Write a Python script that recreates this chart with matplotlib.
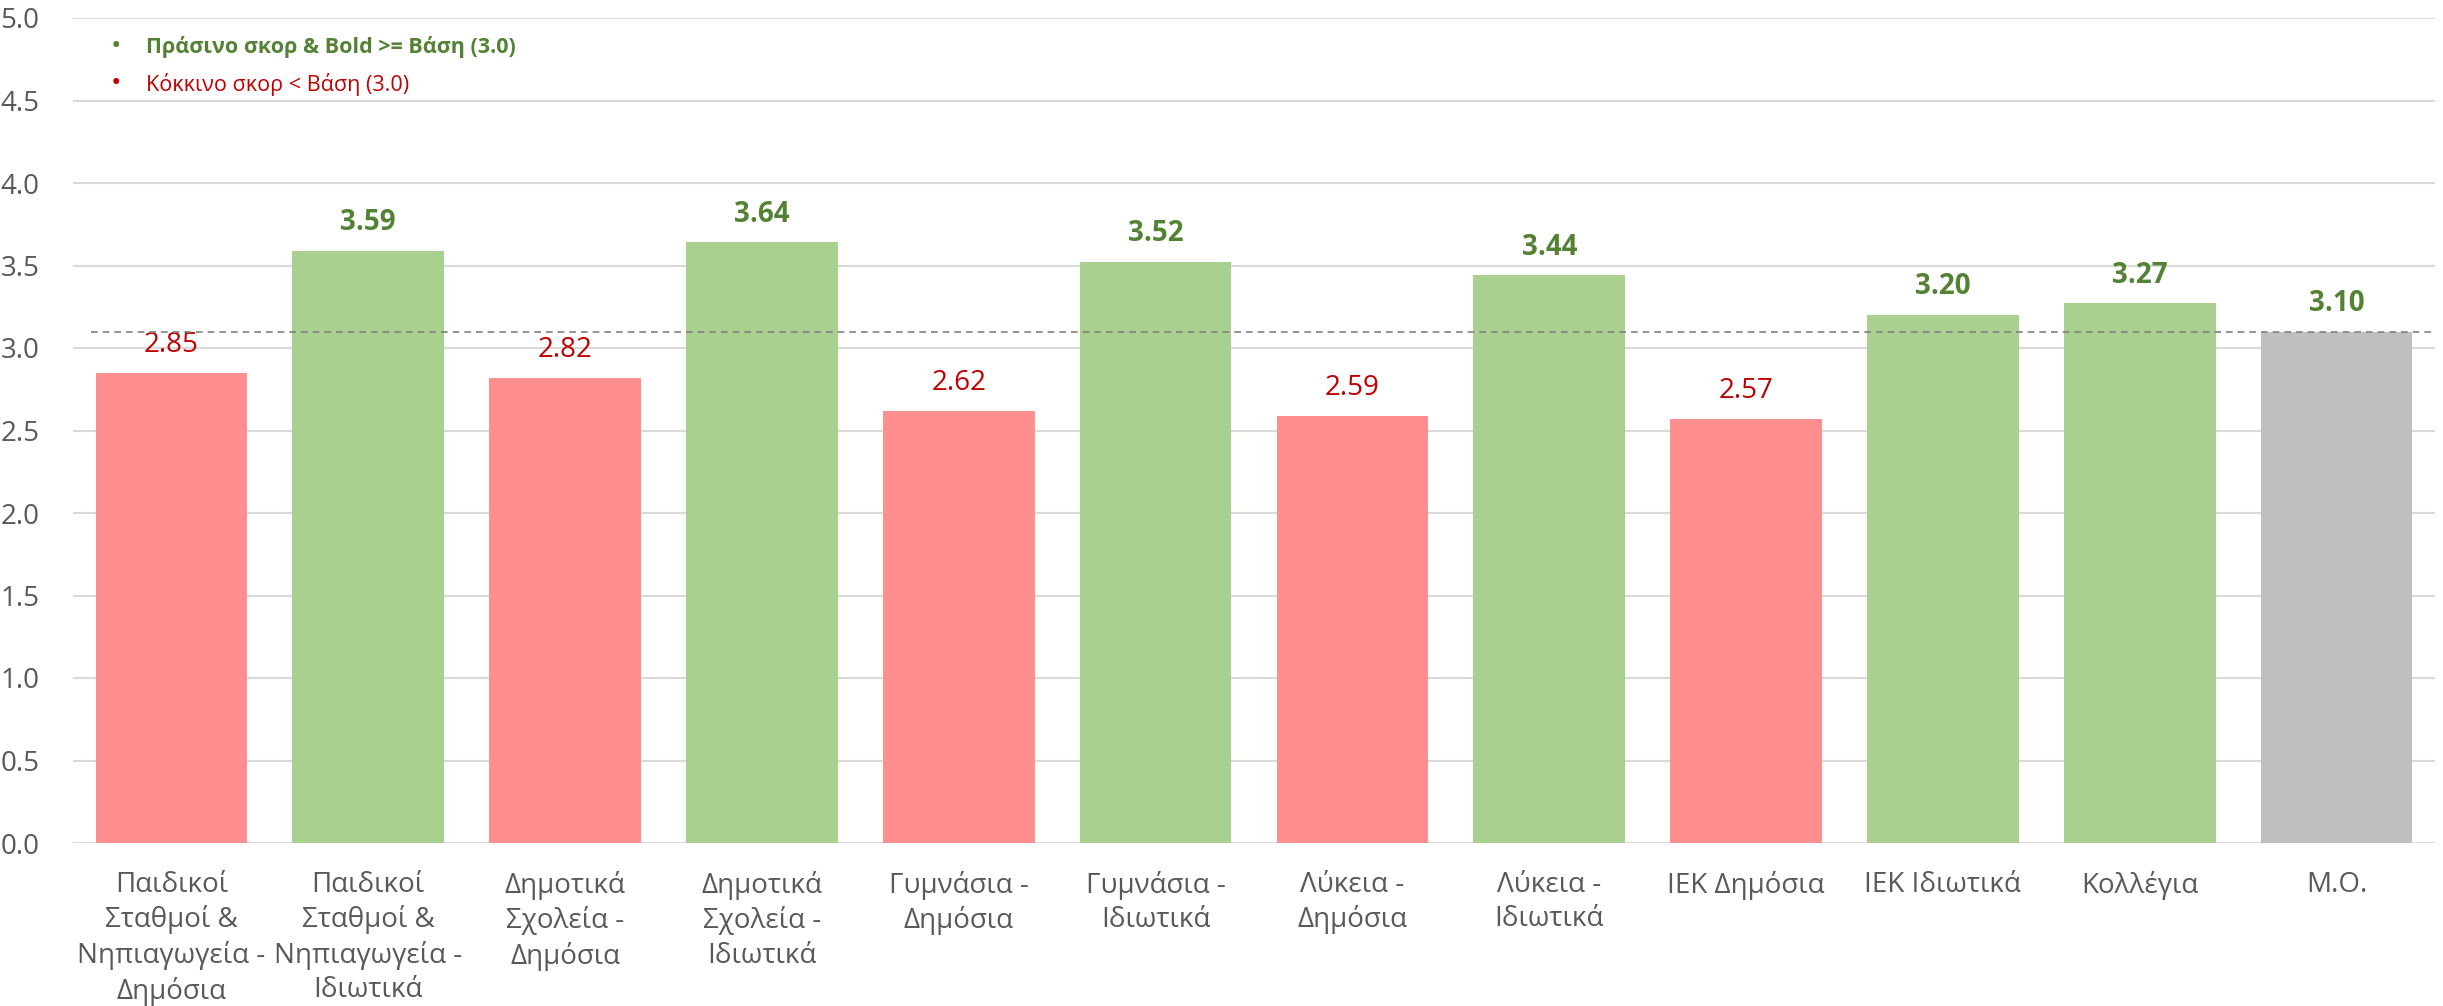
import numpy as np
import matplotlib.pyplot as plt

# data
categories = ["Παιδικοί\nΣταθμοί &\nΝηπιαγωγεία -\nΔημόσια",
              "Παιδικοί\nΣταθμοί &\nΝηπιαγωγεία -\nΙδιωτικά",
              "Δημοτικά\nΣχολεία -\nΔημόσια",
              "Δημοτικά\nΣχολεία -\nΙδιωτικά",
              "Γυμνάσια -\nΔημόσια",
              "Γυμνάσια -\nΙδιωτικά",
              "Λύκεια -\nΔημόσια",
              "Λύκεια -\nΙδιωτικά",
              "ΙΕΚ Δημόσια",
              "ΙΕΚ Ιδιωτικά",
              "Κολλέγια",
              "Μ.Ο."]
scores = [2.85, 3.59, 2.82, 3.64, 2.62, 3.52, 2.59, 3.44, 2.57, 3.20, 3.27, 3.10]
base = 3.0
mean_score = 3.10
yticks = np.arange(0, 5.01, 0.5)

GREEN_BAR = '#a9d08e'
RED_BAR = '#ff8f8f'
GREY_BAR = '#bfbfbf'
GREEN_TXT = '#548235'
RED_TXT = '#c00000'

plt.rcParams['font.family'] = ['Open Sans', 'DejaVu Sans']

fig = plt.figure(figsize=(24.43, 10.06), dpi=100)
ax = fig.add_axes([73 / 2443, 1 - 843 / 1006, (2435 - 73) / 2443, (843 - 18) / 1006])

x = np.arange(len(scores))
colors = []
for i, s in enumerate(scores):
    if i == len(scores) - 1:
        colors.append(GREY_BAR)
    elif s >= base:
        colors.append(GREEN_BAR)
    else:
        colors.append(RED_BAR)
ax.bar(x, scores, width=0.77, color=colors, zorder=2)

# value labels
for xi, s in zip(x, scores):
    if s >= base:
        ax.annotate('%.2f' % s, (xi, s), xytext=(0, 10), textcoords='offset points',
                    ha='center', va='bottom', fontsize=20, fontweight='bold', color=GREEN_TXT)
    else:
        ax.annotate('%.2f' % s, (xi, s), xytext=(0, 10), textcoords='offset points',
                    ha='center', va='bottom', fontsize=20, color=RED_TXT)

# mean line
ax.hlines(mean_score, -0.41, 11.5, colors='#808080', linestyles=(0, (4, 3)), linewidth=1.2, zorder=3)

ax.set_xlim(-0.5, 11.5)
ax.set_ylim(0, 5)
ax.set_yticks(yticks)
ax.set_yticklabels(['%.1f' % t for t in yticks])
ax.set_xticks(x)
ax.set_xticklabels(categories, linespacing=1.3)
ax.tick_params(axis='both', length=0, labelsize=20, colors='#595959')
ax.tick_params(axis='y', pad=24)
ax.tick_params(axis='x', pad=20)
ax.grid(axis='y', color='#d9d9d9', linewidth=1.5, zorder=0)
ax.set_axisbelow(True)
for sp in ax.spines.values():
    sp.set_visible(False)

# legend notes
fig.text(111 / 2443, 1 - 47 / 1006, '•', fontsize=20, color=GREEN_TXT, ha='left', va='center')
fig.text(146 / 2443, 1 - 47 / 1006, 'Πράσινο σκορ & Bold >= Βάση (3.0)', fontsize=15.5,
         fontweight='bold', color=GREEN_TXT, ha='left', va='center')
fig.text(111 / 2443, 1 - 84 / 1006, '•', fontsize=20, color=RED_TXT, ha='left', va='center')
fig.text(146 / 2443, 1 - 84 / 1006, 'Κόκκινο σκορ < Βάση (3.0)', fontsize=15.5,
         color=RED_TXT, ha='left', va='center')

fig.savefig('out.png', dpi=100)
